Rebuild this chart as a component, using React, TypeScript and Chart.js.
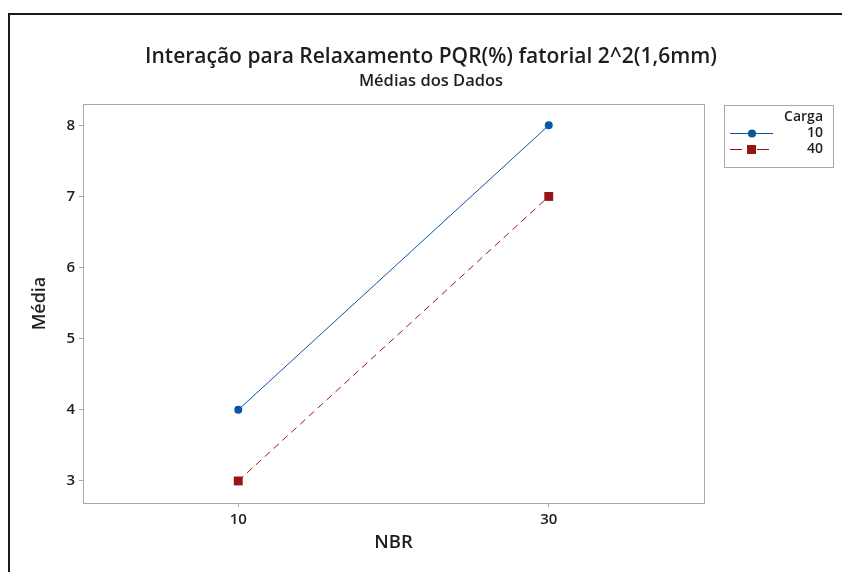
import React, { useEffect, useRef } from "react";
import { Chart, registerables } from "chart.js";

Chart.register(...registerables);

const nbrLevels = [10, 30];
const carga10 = [4, 8];
const carga40 = [3, 7];
const cargaLabels = ["10", "40"];
const xTickValues = [10, 30];
const yTickValues = [3, 4, 5, 6, 7, 8];

const FONT = '"Open Sans", "Noto Sans", sans-serif';
const BLUE = "#0b56a4";
const RED = "#9b1414";
const TEXT = "#1e1e1e";
const FRAME = "#a8a8a8";

const framePlugin = {
  id: "frameAndLegend",
  afterDraw(chart: any) {
    const { ctx, chartArea: a } = chart;
    ctx.save();
    ctx.strokeStyle = FRAME;
    ctx.lineWidth = 1;
    ctx.setLineDash([]);
    ctx.strokeRect(Math.round(a.left) + 0.5, Math.round(a.top) + 0.5, Math.round(a.right - a.left), Math.round(a.bottom - a.top));

    // legend
    const lx = Math.round(a.right) + 20;
    const ly = Math.round(a.top) + 1;
    const lw = 109;
    const lh = 62;
    ctx.strokeStyle = FRAME;
    ctx.strokeRect(lx + 0.5, ly + 0.5, lw, lh);
    ctx.fillStyle = TEXT;
    ctx.textAlign = "right";
    ctx.textBaseline = "middle";
    ctx.font = `600 14px ${FONT}`;
    ctx.fillText("Carga", lx + 99, ly + 12);
    const ds = chart.data.datasets;
    ds.forEach((d: any, i: number) => {
      const y = ly + 28 + i * 16;
      ctx.fillStyle = TEXT;
      ctx.font = `600 14px ${FONT}`;
      ctx.fillText(cargaLabels[i], lx + 99, y);
      ctx.strokeStyle = d.borderColor;
      ctx.lineWidth = 1;
      ctx.setLineDash(i === 0 ? [] : [12, 6, 4, 5]);
      ctx.beginPath();
      ctx.moveTo(lx + 6, y + 0.5);
      ctx.lineTo(lx + 49, y + 0.5);
      ctx.stroke();
      ctx.setLineDash([]);
      ctx.fillStyle = d.pointBackgroundColor;
      if (i === 0) {
        ctx.beginPath();
        ctx.arc(lx + 28, y + 0.5, 4, 0, Math.PI * 2);
        ctx.fill();
      } else {
        ctx.fillRect(lx + 23, y - 4, 9, 9);
      }
    });
    ctx.restore();
  },
};

export default function App() {
  const ref = useRef<HTMLCanvasElement>(null);
  useEffect(() => {
    if (!ref.current) return;
    const chart = new Chart(ref.current, {
      type: "line",
      data: {
        datasets: [
          {
            label: cargaLabels[0],
            data: nbrLevels.map((x, i) => ({ x, y: carga10[i] })),
            borderColor: BLUE,
            backgroundColor: BLUE,
            pointBackgroundColor: BLUE,
            pointBorderColor: BLUE,
            borderWidth: 1,
            pointStyle: "circle",
            pointRadius: 4,
            pointBorderWidth: 0,
          },
          {
            label: cargaLabels[1],
            data: nbrLevels.map((x, i) => ({ x, y: carga40[i] })),
            borderColor: RED,
            backgroundColor: RED,
            pointBackgroundColor: RED,
            pointBorderColor: RED,
            borderWidth: 1,
            borderDash: [7, 5],
            pointStyle: "rect",
            pointRadius: 6.3,
            pointBorderWidth: 0,
          },
        ],
      },
      options: {
        animation: false,
        responsive: false,
        devicePixelRatio: 1,
        layout: { padding: { left: 10, right: 0, top: 0, bottom: 0 } },
        plugins: {
          legend: { display: false },
          tooltip: { enabled: false },
          title: {
            display: true,
            text: "Interação para Relaxamento PQR(%) fatorial 2^2(1,6mm)",
            color: TEXT,
            font: { family: FONT, size: 21, weight: "600", lineHeight: 1.2 },
            padding: { top: 29, bottom: 0 },
          },
          subtitle: {
            display: true,
            text: "Médias dos Dados",
            color: TEXT,
            font: { family: FONT, size: 16.5, weight: "600", lineHeight: 1.2 },
            padding: { top: 2, bottom: 13 },
          },
        },
        scales: {
          x: {
            type: "linear",
            position: "bottom",
            min: 0,
            max: 40,
            afterBuildTicks: (s: any) => {
              s.ticks = xTickValues.map((v) => ({ value: v }));
            },
            afterFit: (s: any) => {
              s.height = 69;
            },
            grid: { drawOnChartArea: false, drawTicks: true, tickLength: 4, color: FRAME },
            border: { display: false },
            ticks: {
              color: TEXT,
              padding: 4,
              maxRotation: 0,
              font: { family: FONT, size: 15, weight: "600", lineHeight: 1.2 },
              callback: (v: any) => String(v),
            },
            title: {
              display: true,
              text: "NBR",
              color: TEXT,
              font: { family: FONT, size: 18.5, weight: "600", lineHeight: 1.2 },
              padding: { top: 0, bottom: 17.9 },
            },
          },
          y: {
            type: "linear",
            position: "left",
            min: 2.69,
            max: 8.3,
            afterBuildTicks: (s: any) => {
              s.ticks = yTickValues.map((v) => ({ value: v }));
            },
            afterFit: (s: any) => {
              s.width = 63;
            },
            grid: { drawOnChartArea: false, drawTicks: true, tickLength: 4, color: FRAME },
            border: { display: false },
            ticks: {
              color: TEXT,
              padding: 4,
              font: { family: FONT, size: 15, weight: "600", lineHeight: 1.2 },
              callback: (v: any) => String(v),
            },
            title: {
              display: true,
              text: "Média",
              color: TEXT,
              font: { family: FONT, size: 18, weight: "600", lineHeight: 1.2 },
              padding: { top: 9.2, bottom: 0 },
            },
          },
          yRight: {
            type: "linear",
            position: "right",
            display: true,
            afterFit: (s: any) => {
              s.width = 138;
            },
            grid: { display: false, drawTicks: false },
            border: { display: false },
            ticks: { display: false },
          },
        },
      },
      plugins: [framePlugin],
    } as any);
    return () => chart.destroy();
  }, []);

  return (
    <div
      style={{
        position: "fixed",
        left: 8,
        top: 13,
        right: 0,
        bottom: 0,
        borderTop: "2px solid #1a1a1a",
        borderLeft: "2px solid #1a1a1a",
        background: "#fff",
      }}
    >
      <canvas ref={ref} width={832} height={557} style={{ display: "block" }} />
    </div>
  );
}
